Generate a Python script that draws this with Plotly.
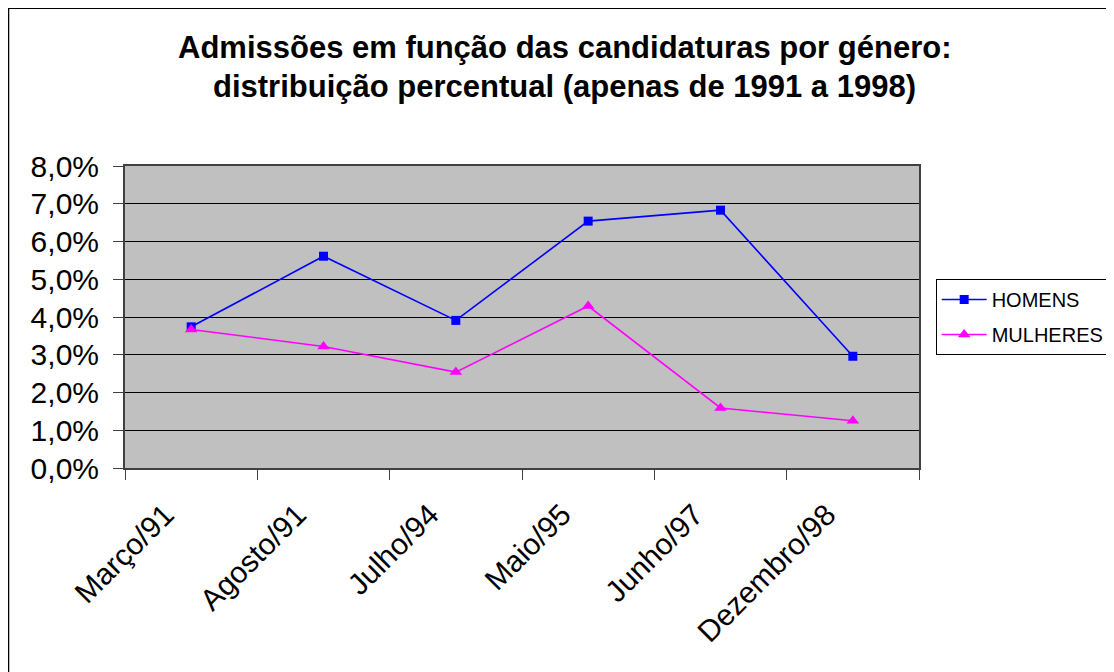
import plotly.graph_objects as go

# Datas das candidaturas (eixo X)
periodos = ["Março/91", "Agosto/91", "Julho/94", "Maio/95", "Junho/97", "Dezembro/98"]

# Percentagem de admissões por género
homens = [0.0374, 0.0561, 0.0391, 0.0654, 0.0683, 0.0296]
mulheres = [0.0367, 0.0322, 0.0254, 0.0429, 0.0159, 0.0125]

titulo_l1 = "Admissões em função das candidaturas por género:"
titulo_l2 = "distribuição percentual (apenas de 1991 a 1998)"

FONT = "Liberation Sans, Arial, sans-serif"

fig = go.Figure()
fig.add_trace(go.Scatter(
    x=periodos, y=homens, mode="lines+markers", name="HOMENS", legendgroup="h",
    line=dict(color="#0000FF", width=1.6),
    marker=dict(symbol="square", size=9, color="#0000FF"),
))
fig.add_trace(go.Scatter(
    x=periodos, y=mulheres, mode="lines+markers", name="MULHERES", legendgroup="m",
    line=dict(color="#FF00FF", width=1.6),
    marker=dict(symbol="triangle-up", size=11, color="#FF00FF"),
))

fig.update_layout(
    width=1114, height=672,
    margin=dict(l=117, r=201, t=158, b=212),
    paper_bgcolor="white",
    plot_bgcolor="#C0C0C0",
    separators=",.",
    font=dict(family=FONT, color="black"),
    showlegend=True,
    legend=dict(
        x=1.021, y=0.5, xanchor="left", yanchor="middle",
        bgcolor="white", bordercolor="black", borderwidth=1,
        font=dict(size=20, family=FONT), itemwidth=45,
        tracegroupgap=6,
    ),
    annotations=[
        dict(text=f"<b>{titulo_l1}</b>", xref="paper", yref="paper",
             x=0.553, y=1.394, showarrow=False, xanchor="center", yanchor="middle",
             font=dict(size=31, family=FONT)),
        dict(text=f"<b>{titulo_l2}</b>", xref="paper", yref="paper",
             x=0.553, y=1.262, showarrow=False, xanchor="center", yanchor="middle",
             font=dict(size=31, family=FONT)),
    ],
    shapes=[
        dict(type="rect", xref="paper", yref="paper",
             x0=-0.147, x1=1.26, y0=-0.72, y1=1.523,
             line=dict(color="black", width=2), fillcolor="rgba(0,0,0,0)", layer="below"),
    ],
)

fig.update_xaxes(
    type="category", range=[-0.5, len(periodos) - 0.5],
    tickson="boundaries", ticks="outside", ticklen=10,
    tickcolor="#404040", tickangle=-45,
    tickfont=dict(size=30, family=FONT),
    ticklabelshift=-26, ticklabelstandoff=15,
    showline=True, linecolor="#404040", linewidth=2, mirror=True,
    showgrid=False,
)
fig.update_yaxes(
    range=[0, 0.08], dtick=0.01, tickformat=".1%",
    ticks="outside", ticklen=10, tickcolor="#404040",
    tickfont=dict(size=30, family=FONT), ticklabelstandoff=8,
    showline=True, linecolor="#404040", linewidth=2, mirror=True,
    showgrid=True, gridcolor="black", gridwidth=1,
    zeroline=False,
)

fig.write_html("out.html")
